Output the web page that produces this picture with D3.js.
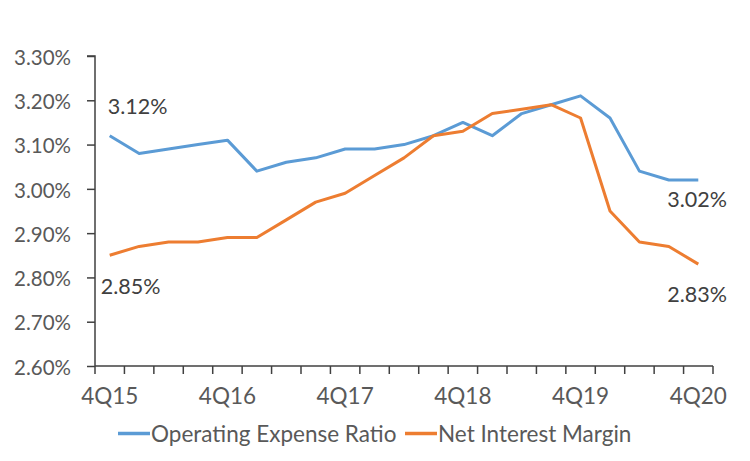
<!DOCTYPE html>
<html><head><meta charset="utf-8">
<script src="https://cdn.jsdelivr.net/npm/d3@7"></script>
<style>body{margin:0;background:#fff}svg{display:block}text{font-family:Lato,"Open Sans",sans-serif}</style>
</head><body>
<svg id="c" width="750" height="461"></svg>
<script>
const categories = ["4Q15","1Q16","2Q16","3Q16","4Q16","1Q17","2Q17","3Q17","4Q17","1Q18","2Q18","3Q18","4Q18","1Q19","2Q19","3Q19","4Q19","1Q20","2Q20","3Q20","4Q20"];
const opexRatio = [3.12,3.08,3.09,3.10,3.11,3.04,3.06,3.07,3.09,3.09,3.10,3.12,3.15,3.12,3.17,3.19,3.21,3.16,3.04,3.02,3.02];
const netInterestMargin = [2.85,2.87,2.88,2.88,2.89,2.89,2.93,2.97,2.99,3.03,3.07,3.12,3.13,3.17,3.18,3.19,3.16,2.95,2.88,2.87,2.83];
const yTicks = [2.60,2.70,2.80,2.90,3.00,3.10,3.20,3.30];
const xTickLabels = ["4Q15","4Q16","4Q17","4Q18","4Q19","4Q20"];
const seriesNames = ["Operating Expense Ratio","Net Interest Margin"];

const svg = d3.select("#c");
const x = d3.scaleBand().domain(categories).range([95,713]).paddingInner(0).paddingOuter(0);
const y = d3.scaleLinear().domain([2.6,3.3]).range([366,56]);
const cx = c => x(c) + x.bandwidth()/2;
const axisCol = "#404040", textCol = "#595959";

// y axis
const ya = svg.append("g").attr("transform","translate(95,0)")
  .call(d3.axisLeft(y).tickValues(yTicks).tickSize(8).tickPadding(16).tickFormat(d=>d.toFixed(2)+"%"));
ya.select(".domain").attr("stroke",axisCol).attr("stroke-width",1.5).attr("d","M-8,"+y(3.3)+"H0V"+y(2.6));
ya.selectAll(".tick line").attr("stroke",axisCol).attr("stroke-width",1.5);
ya.selectAll(".tick text").attr("fill",textCol).attr("dy","0.4em").style("font-size","20.5px").style("font-family","Lato");

// x axis
const xg = svg.append("g");
xg.append("line").attr("x1",x.range()[0]).attr("x2",x.range()[1]).attr("y1",y(2.6)).attr("y2",y(2.6)).attr("stroke",axisCol).attr("stroke-width",1.5);
const bounds = categories.map(c=>x(c)).concat([x.range()[1]]);
xg.selectAll("line.t").data(bounds).enter().append("line").attr("class","t")
  .attr("x1",d=>d).attr("x2",d=>d).attr("y1",y(2.6)).attr("y2",y(2.6)+8).attr("stroke",axisCol).attr("stroke-width",1.5);
xg.selectAll("text").data(xTickLabels).enter().append("text")
  .attr("x",d=>cx(d)).attr("y",404).attr("text-anchor","middle").attr("fill",textCol)
  .style("font-size","22.5px").text(d=>d);

// lines
const line = d3.line().x((d,i)=>cx(categories[i])).y(d=>y(d));
const colors = ["#5B9BD5","#ED7D31"];
[opexRatio, netInterestMargin].forEach((s,k)=>{
  svg.append("path").datum(s).attr("d",line).attr("fill","none").attr("stroke",colors[k]).attr("stroke-width",3).attr("stroke-linejoin","round");
});

// data labels
const lbl = (txt,xx,yy)=>svg.append("text").attr("x",xx).attr("y",yy).attr("fill","#404040").style("font-size","21.5px").text(txt);
lbl(opexRatio[0].toFixed(2)+"%", cx(categories[0])-2, 114);
lbl(netInterestMargin[0].toFixed(2)+"%", cx(categories[0])-9, 294);
lbl(opexRatio[20].toFixed(2)+"%", cx(categories[20])-31, 207);
lbl(netInterestMargin[20].toFixed(2)+"%", cx(categories[20])-31, 302);

// legend
const lg = svg.append("g");
const lx = [118,405];
seriesNames.forEach((n,k)=>{
  lg.append("line").attr("x1",lx[k]).attr("x2",lx[k]+32).attr("y1",433.5).attr("y2",433.5).attr("stroke",colors[k]).attr("stroke-width",3.5);
  lg.append("text").attr("x",lx[k]+33).attr("y",442).attr("fill",textCol).style("font-size","22.5px").text(n);
});
</script>
</body></html>
